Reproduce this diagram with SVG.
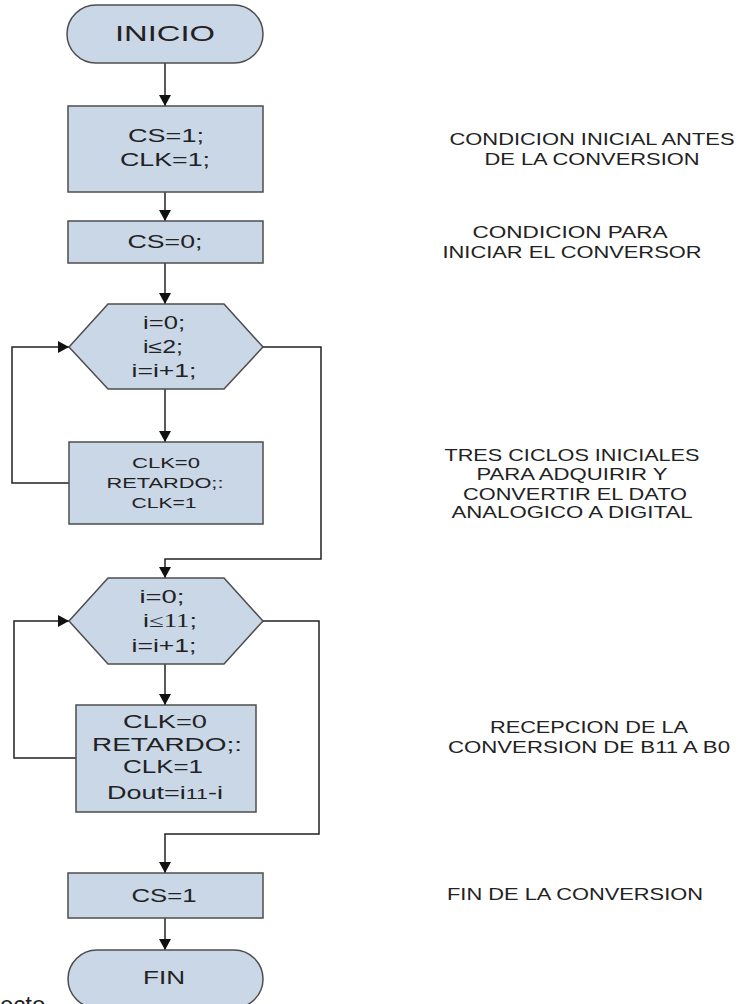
<svg xmlns="http://www.w3.org/2000/svg" width="740" height="1004" viewBox="0 0 740 1004">
  <style>
    .shape { fill: #cad7e7; stroke: #4d4d4d; stroke-width: 1.5; }
    .lbl { font-family: "Liberation Sans", Arial, sans-serif; fill: #222; text-anchor: middle; lengthAdjust: spacingAndGlyphs; }
    .note { font-family: "Liberation Sans", Arial, sans-serif; fill: #222; text-anchor: middle; font-size: 17px; }
    .wire { fill: none; stroke: #222; stroke-width: 1.5; }
  </style>
  <defs>
    <marker id="arrow" markerUnits="userSpaceOnUse" markerWidth="12" markerHeight="12" refX="11" refY="6" orient="auto">
      <path d="M0,0 L11,6 L0,12 z" fill="#111"/>
    </marker>
  </defs>
  <rect width="740" height="1004" fill="#ffffff"/>

  <!-- connectors -->
  <g id="connectors">
    <path class="wire" d="M165,63 V106" marker-end="url(#arrow)"/>
    <path class="wire" d="M165,192 V221" marker-end="url(#arrow)"/>
    <path class="wire" d="M165,263 V304" marker-end="url(#arrow)"/>
    <path class="wire" d="M165,389 V442" marker-end="url(#arrow)"/>
    <path class="wire" d="M69,483 H12 V347 H69" marker-end="url(#arrow)"/>
    <path class="wire" d="M263,347 H321 V559 H165 V578" marker-end="url(#arrow)"/>
    <path class="wire" d="M165,664 V705" marker-end="url(#arrow)"/>
    <path class="wire" d="M76,758 H14 V621 H69" marker-end="url(#arrow)"/>
    <path class="wire" d="M263,621 H319 V834 H165 V873" marker-end="url(#arrow)"/>
    <path class="wire" d="M165,918 V950" marker-end="url(#arrow)"/>
  </g>

  <!-- start -->
  <g id="inicio">
    <rect class="shape" x="67" y="5" width="196" height="58" rx="29" ry="29"/>
    <text class="lbl" x="165" y="41" font-size="22" textLength="100" lengthAdjust="spacingAndGlyphs">INICIO</text>
  </g>

  <!-- initial state -->
  <g id="init">
    <rect class="shape" x="68" y="106" width="195" height="86"/>
    <text class="lbl" x="166" y="142" font-size="18" textLength="76" lengthAdjust="spacingAndGlyphs">CS=1;</text>
    <text class="lbl" x="165" y="166" font-size="18" textLength="90" lengthAdjust="spacingAndGlyphs">CLK=1;</text>
  </g>

  <!-- chip select low -->
  <g id="cs0">
    <rect class="shape" x="68" y="221" width="195" height="42"/>
    <text class="lbl" x="165" y="248" font-size="18" textLength="75" lengthAdjust="spacingAndGlyphs">CS=0;</text>
  </g>

  <!-- first loop -->
  <g id="loop1">
    <polygon class="shape" points="69,347 108,304 224,304 263,347 224,389 108,389"/>
    <text class="lbl" x="164" y="329" font-size="18" textLength="42" lengthAdjust="spacingAndGlyphs">i=0;</text>
    <text class="lbl" x="163" y="353" font-size="18" textLength="40" lengthAdjust="spacingAndGlyphs">i≤2;</text>
    <text class="lbl" x="164" y="377" font-size="18" textLength="65" lengthAdjust="spacingAndGlyphs">i=i+1;</text>
  </g>

  <g id="clock1">
    <rect class="shape" x="69" y="442" width="194" height="82"/>
    <text class="lbl" x="166" y="468" font-size="14" textLength="68" lengthAdjust="spacingAndGlyphs">CLK=0</text>
    <text class="lbl" x="165" y="488" font-size="14" textLength="117" lengthAdjust="spacingAndGlyphs">RETARDO;:</text>
    <text class="lbl" x="164" y="508" font-size="14" textLength="65" lengthAdjust="spacingAndGlyphs">CLK=1</text>
  </g>

  <!-- second loop -->
  <g id="loop2">
    <polygon class="shape" points="69,621 108,578 224,578 263,621 224,664 108,664"/>
    <text class="lbl" x="162" y="603" font-size="18" textLength="45" lengthAdjust="spacingAndGlyphs">i=0;</text>
    <text class="lbl" x="170" y="627" font-size="18" textLength="54" lengthAdjust="spacingAndGlyphs">i<tspan font-family="Liberation Serif, serif">≤11</tspan>;</text>
    <text class="lbl" x="164" y="652" font-size="18" textLength="65" lengthAdjust="spacingAndGlyphs">i=i+1;</text>
  </g>

  <g id="clock2">
    <rect class="shape" x="76" y="705" width="180" height="107"/>
    <text class="lbl" x="165" y="728" font-size="19" textLength="84" lengthAdjust="spacingAndGlyphs">CLK=0</text>
    <text class="lbl" x="167" y="751" font-size="19" textLength="150" lengthAdjust="spacingAndGlyphs">RETARDO;:</text>
    <text class="lbl" x="163" y="773" font-size="19" textLength="80" lengthAdjust="spacingAndGlyphs">CLK=1</text>
    <text class="lbl" x="165" y="799" font-size="19" textLength="116" lengthAdjust="spacingAndGlyphs">Dout=i<tspan font-size="15">11</tspan>-i</text>
  </g>

  <!-- chip select high -->
  <g id="cs1">
    <rect class="shape" x="68" y="873" width="195" height="45"/>
    <text class="lbl" x="164" y="902" font-size="18" textLength="65" lengthAdjust="spacingAndGlyphs">CS=1</text>
  </g>

  <!-- end -->
  <g id="fin">
    <rect class="shape" x="68" y="950" width="195" height="58" rx="29" ry="29"/>
    <text class="lbl" x="164" y="984" font-size="19" textLength="42" lengthAdjust="spacingAndGlyphs">FIN</text>
  </g>

  <!-- side notes -->
  <g id="notes">
    <text class="note" x="592" y="145" textLength="285" lengthAdjust="spacingAndGlyphs">CONDICION INICIAL ANTES</text>
    <text class="note" x="592" y="165" textLength="215" lengthAdjust="spacingAndGlyphs">DE LA CONVERSION</text>
    <text class="note" x="570" y="238" textLength="195" lengthAdjust="spacingAndGlyphs">CONDICION PARA</text>
    <text class="note" x="572" y="258" textLength="259" lengthAdjust="spacingAndGlyphs">INICIAR EL CONVERSOR</text>
    <text class="note" x="572" y="461" textLength="255" lengthAdjust="spacingAndGlyphs">TRES CICLOS INICIALES</text>
    <text class="note" x="572" y="480" textLength="191" lengthAdjust="spacingAndGlyphs">PARA ADQUIRIR Y</text>
    <text class="note" x="575" y="500" textLength="224" lengthAdjust="spacingAndGlyphs">CONVERTIR EL DATO</text>
    <text class="note" x="572" y="518" textLength="241" lengthAdjust="spacingAndGlyphs">ANALOGICO A DIGITAL</text>
    <text class="note" x="589" y="733" textLength="198" lengthAdjust="spacingAndGlyphs">RECEPCION DE LA</text>
    <text class="note" x="589" y="753" textLength="282" lengthAdjust="spacingAndGlyphs">CONVERSION DE B11 A B0</text>
    <text class="note" x="575" y="900" textLength="256" lengthAdjust="spacingAndGlyphs">FIN DE LA CONVERSION</text>
  </g>

  <text x="0" y="1013" font-family="Liberation Sans, Arial, sans-serif" font-size="24" fill="#222">ecto</text>
</svg>
